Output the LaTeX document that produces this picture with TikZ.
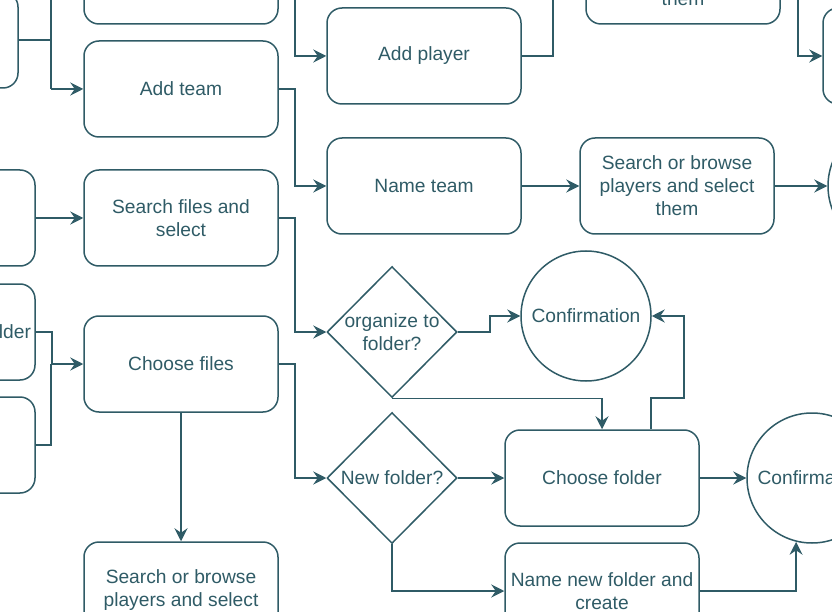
\documentclass[tikz,border=0pt]{standalone}
\usepackage{fontspec}
\setmainfont{Liberation Sans}
\usepackage{tikz}
\usetikzlibrary{arrows.meta,shapes.geometric}
\definecolor{flow}{HTML}{2F5B66}

\begin{document}
\begin{tikzpicture}[x=1pt,y=-1pt,color=flow,line width=1.5pt,
  every node/.style={font=\fontsize{19.2}{23}\selectfont},
  proc/.style={draw,rounded corners=15pt,minimum width=194pt,minimum height=96pt,align=center},
  dec/.style={draw,diamond,minimum width=130pt,minimum height=131pt,inner sep=-4pt,align=center},
  conf/.style={draw,circle,minimum size=130pt,inner sep=0pt},
  arr/.style={-{Stealth[length=13pt,width=13pt,inset=4.5pt]}}]
\useasboundingbox (0,0) rectangle (832,612);
\clip (0,0) rectangle (832,612);

% left edge
\node[proc] (topL) at (-79,40) {};
\node[proc] (leftM) at (-62,218) {};
\node[proc,text width=186pt,inner xsep=4pt,align=right] (leftF) at (-62,332) {lder};
\node[proc] (leftG) at (-62,445) {};

% first column
\node[proc] (topA) at (181,-24) {};
\node[proc] (addteam) at (181,89) {Add team};
\node[proc] (srchfiles) at (181,218) {Search files and\\select};
\node[proc] (choosefiles) at (181,364) {Choose files};
\node[proc] (srchplay2) at (181,590) {Search or browse\\players and select};

% second column
\node[proc] (addplayer) at (424,56) {Add player};
\node[proc] (nameteam) at (424,186) {Name team};
\node[dec] (dec1) at (392,332) {organize to\\folder?};
\node[dec] (dec2) at (392,478) {New folder?};

% right part
\node[proc] (topR) at (683,-24) {Search or browse\\players and select\\them};
\node[proc] (srchplay) at (677,186) {Search or browse\\players and select\\them};
\node[conf] (conf1) at (586,316) {Confirmation};
\node[proc] (choosefolder) at (602,478) {Choose folder};
\node[proc] (namefolder) at (602,591) {Name new folder and\\create};
\node[conf] (conf2) at (812,478) {Confirmation};
\node[proc] (rightT) at (920,56) {};
\node[conf] (conf3) at (893,186) {};

\coordinate (upL) at (51,-30);
\coordinate (jA) at (51,89);
\coordinate (upP) at (553,-30);

% connectors
\draw (topL.east) -| (jA);
\draw (upL) -- (jA);
\draw[arr] (jA) -- (addteam.west);
\draw[arr] (topA.east) -- ++(16,0) |- (addplayer.west);
\draw[arr] (addteam.east) -- ++(16,0) |- (nameteam.west);
\draw (addplayer.east) -| (upP);
\draw[arr] (topR.east) -- ++(17,0) |- (rightT.west);
\draw[arr] (nameteam) -- (srchplay);
\draw[arr] (srchplay) -- (conf3);
\draw[arr] (leftM) -- (srchfiles);
\draw[arr] (srchfiles.east) -- ++(16,0) |- (dec1.west);
\draw[arr] (dec1.east) -- ++(32,0) |- (conf1.west);
\draw[arr] (dec1.south) -| (choosefolder.north);
\draw[arr] ([xshift=49pt]choosefolder.north) |- (684,398) |- (conf1.east);
\draw[arr] (leftF.east) -- ++(16,0) |- (choosefiles.west);
\draw (leftG.east) -| (51,364);
\draw[arr] (choosefiles.east) -- ++(16,0) |- (dec2.west);
\draw[arr] (choosefiles) -- (srchplay2);
\draw[arr] (dec2) -- (choosefolder);
\draw[arr] (dec2.south) |- (namefolder.west);
\draw[arr] (choosefolder) -- (conf2);
\draw[arr] (namefolder.east) -| (conf2.256);
\end{tikzpicture}
\end{document}
